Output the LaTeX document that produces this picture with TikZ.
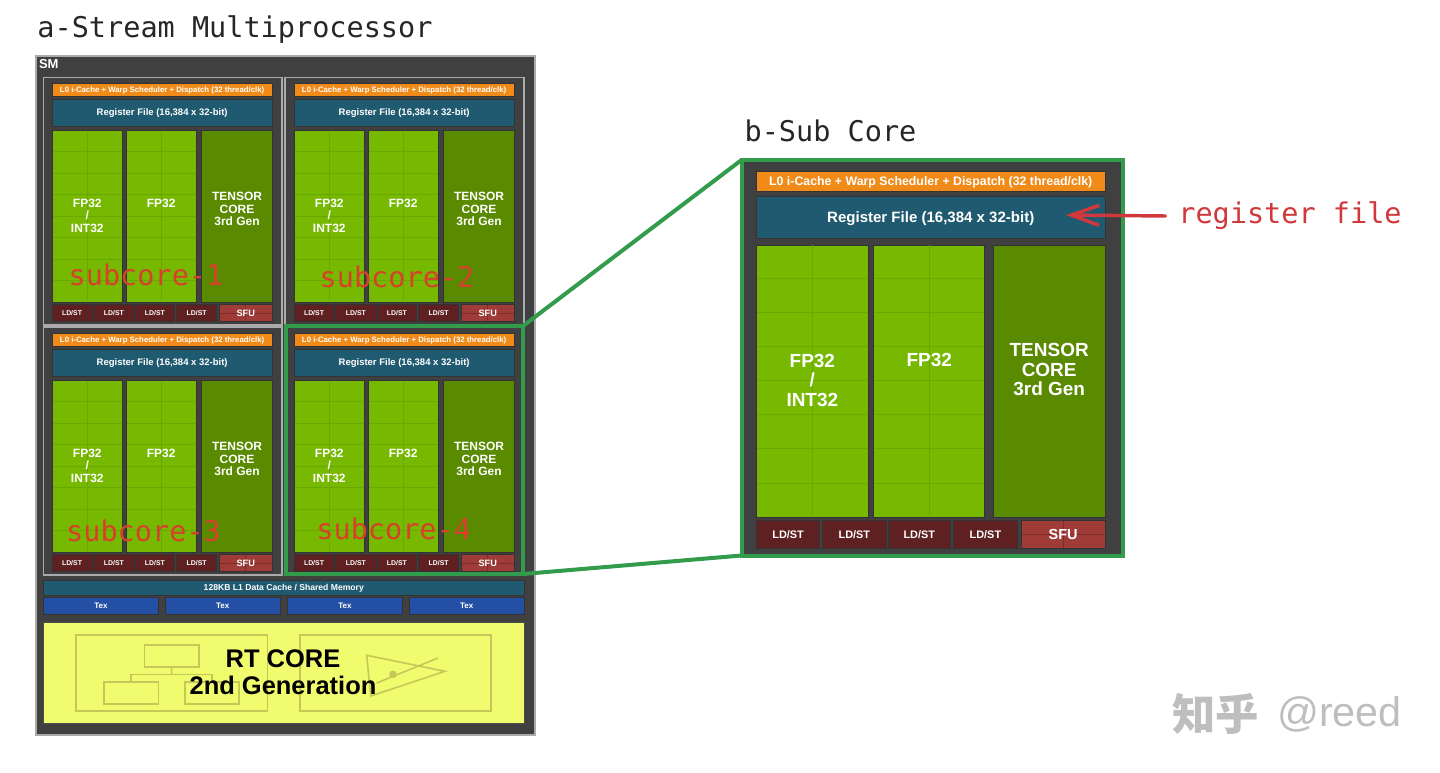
\documentclass[tikz,border=0pt]{standalone}
\usepackage{fontspec}
\setmainfont{Liberation Sans}
\newfontfamily\titlefont{DejaVu Sans Mono}
\newfontfamily\cjkfont{Noto Sans CJK SC}
\usetikzlibrary{calc,arrows.meta}

\definecolor{smdark}{HTML}{404040}
\definecolor{frameline}{HTML}{ABABAB}
\definecolor{orangebar}{HTML}{F08A18}
\definecolor{regblue}{HTML}{1F5A70}
\definecolor{fpgreen}{HTML}{76B900}
\definecolor{fpgrid}{HTML}{68A800}
\definecolor{tensorgreen}{HTML}{5A8A00}
\definecolor{ldstred}{HTML}{5E2020}
\definecolor{sfured}{HTML}{A03C38}
\definecolor{sfugrid}{HTML}{7E2C2A}
\definecolor{texblue}{HTML}{2350A5}
\definecolor{rtyellow}{HTML}{F0FC6E}
\definecolor{rtline}{HTML}{C4C858}
\definecolor{zoomgreen}{HTML}{339C4C}
\definecolor{notered}{HTML}{D0383C}
\definecolor{subred}{HTML}{D8402C}
\definecolor{markgray}{HTML}{BEBEBE}

% Current sub-core origin and scale
\def\sOx{0}\def\sOy{0}\def\sS{1}

% Font size given in pixels of the drawing, scaled with the current sub-core
\newcommand{\pxfont}[2]{%
  \pgfmathsetmacro\tmpfs{#1*\sS*0.75}%
  \pgfmathsetmacro\tmpbs{#2*\sS*0.75}%
  \fontsize{\tmpfs pt}{\tmpbs pt}\selectfont\bfseries}

% One line of box text, centred on its capital height
\newcommand{\chiptext}[2]{\pxfont{#1}{#1}\raisebox{0pt}[.72em][0pt]{#2}}

% \bx{name}{style}{x0}{y0}{x1}{y1}{text}: box in the current sub-core frame
\newcommand{\bx}[7]{%
  \pgfmathsetmacro\bw{(#5-#3)*\sS*0.75}%
  \pgfmathsetmacro\bh{(#6-#4)*\sS*0.75}%
  \pgfmathsetmacro\bcx{\sOx+\sS*(#3+#5)/2}%
  \pgfmathsetmacro\bcy{\sOy+\sS*(#4+#6)/2}%
  \node[#2,minimum width=\bw pt,minimum height=\bh pt] (#1) at (\bcx,\bcy) {#7};}

% \tx{name}{x}{y}{text}: centred block label in the current sub-core frame
\newcommand{\tx}[4]{%
  \pgfmathsetmacro\bcx{\sOx+\sS*#2}%
  \pgfmathsetmacro\bcy{\sOy+\sS*#3}%
  \node[chiplabel,font={\pxfont{12}{12.35}}] (#1) at (\bcx,\bcy) {#4};}

% \subcore{prefix}{origin x}{origin y}{scale}
\newcommand{\subcore}[4]{%
  \def\sOx{#2}\def\sOy{#3}\def\sS{#4}%
  \bx{#1orange}{chipbox,fill=orangebar}{0}{0}{220.3}{12.7}{\chiptext{7.8}{L0 i-Cache + Warp Scheduler + Dispatch (32 thread/clk)}}
  \bx{#1reg}{chipbox,fill=regblue}{0}{15.7}{220.3}{42.7}{\chiptext{9.5}{Register File (16,384 x 32-bit)}}
  \bx{#1fpa}{chipbox,fill=fpgreen}{0}{46.7}{70.7}{218.7}{}
  \bx{#1fpb}{chipbox,fill=fpgreen}{74}{46.7}{144.3}{218.7}{}
  \bx{#1ten}{chipbox,fill=tensorgreen}{149.7}{46.7}{220.3}{218.7}{}
  \foreach \p in {#1fpa,#1fpb}{
    \foreach \k in {1,...,7}
      \draw[fpline] ($(\p.north west)!\k/8!(\p.south west)$) -- ($(\p.north east)!\k/8!(\p.south east)$);
    \draw[fpline] (\p.north) -- (\p.south);
  }
  \tx{#1fpatext}{35.3}{132.4}{FP32\\/\\INT32}
  \tx{#1fpbtext}{109.2}{119.7}{FP32}
  \tx{#1tentext}{185}{125.7}{TENSOR\\CORE\\3rd Gen}
  \bx{#1lda}{chipbox,fill=ldstred}{0}{221}{40}{238.4}{\chiptext{6.9}{LD/ST}}
  \bx{#1ldb}{chipbox,fill=ldstred}{41.7}{221}{82}{238.4}{\chiptext{6.9}{LD/ST}}
  \bx{#1ldc}{chipbox,fill=ldstred}{83.3}{221}{122.5}{238.4}{\chiptext{6.9}{LD/ST}}
  \bx{#1ldd}{chipbox,fill=ldstred}{124.7}{221}{164.7}{238.4}{\chiptext{6.9}{LD/ST}}
  \bx{#1sfu}{chipbox,fill=sfured}{167.3}{221}{220.3}{238.4}{}
  \draw[sfuline] (#1sfu.west) -- (#1sfu.east);
  \draw[sfuline] (#1sfu.north) -- (#1sfu.south);
  \pgfmathsetmacro\bcx{\sOx+\sS*193.8}%
  \pgfmathsetmacro\bcy{\sOy+\sS*229.7}%
  \node[chiplabel] (#1sfutext) at (\bcx,\bcy) {\chiptext{9.2}{SFU}};
}

\tikzset{
  chipbox/.style={draw=black!80,line width=0.5pt,inner sep=0pt,outer sep=0pt,text=white,align=center},
  chiplabel/.style={inner sep=0pt,outer sep=0pt,text=white,align=center},
  fpline/.style={draw=fpgrid,line width=0.7pt,shorten >=0.4pt,shorten <=0.4pt},
  sfuline/.style={draw=sfugrid,line width=0.7pt,shorten >=0.4pt,shorten <=0.4pt},
  clusterframe/.style={draw=frameline,line width=0.9pt,inner sep=0pt,outer sep=0pt},
  zoomframe/.style={draw=zoomgreen,inner sep=0pt,outer sep=0pt},
  zoomline/.style={draw=zoomgreen,line width=3pt,line cap=round},
  headtext/.style={inner sep=0pt,outer sep=0pt,text=black!85,font=\titlefont\fontsize{21.4pt}{24pt}\selectfont},
  subtext/.style={inner sep=0pt,outer sep=0pt,text=subred,font=\titlefont\fontsize{21.4pt}{24pt}\selectfont},
  rtline/.style={draw=rtline,line width=1.2pt},
  rtbox/.style={rtline,inner sep=0pt,outer sep=0pt},
}

\begin{document}
\begin{tikzpicture}[x=0.75pt,y=-0.75pt]
\useasboundingbox (0,0) rectangle (1440,772);

% Titles
\node[headtext,anchor=center] (titlea) at (235,30) {a-Stream Multiprocessor};
\node[headtext,anchor=center] (titleb) at (830.5,131) {b-Sub Core};

% Streaming multiprocessor body
\def\sS{1}
\bx{sm}{fill=smdark,draw=frameline,line width=1pt,inner sep=0pt}{36}{56}{535}{735}{}
\node[chiplabel,anchor=west] (smtext) at (39,64) {\chiptext{13}{SM}};

% Sub-core cluster frames
\bx{framea}{clusterframe}{43.3}{77.7}{282}{325}{}
\bx{frameb}{clusterframe}{285}{77.7}{524}{325}{}
\bx{framec}{clusterframe}{43.3}{327}{282}{575}{}

\subcore{sa}{52}{83.3}{1}
\subcore{sb}{294}{83.3}{1}
\subcore{sc}{52}{333.3}{1}
\subcore{sd}{294}{333.3}{1}
\def\sOx{0}\def\sOy{0}\def\sS{1}

\bx{framed}{zoomframe,line width=3pt}{286}{326}{523}{574}{}

% Shared memory and texture units
\bx{lone}{chipbox,fill=regblue}{43.3}{580.7}{524.3}{595}{\chiptext{8.6}{128KB L1 Data Cache / Shared Memory}}
\bx{texa}{chipbox,fill=texblue}{43.3}{597.7}{158.7}{614.3}{\chiptext{8}{Tex}}
\bx{texb}{chipbox,fill=texblue}{165}{597.7}{280.3}{614.3}{\chiptext{8}{Tex}}
\bx{texc}{chipbox,fill=texblue}{287}{597.7}{402.7}{614.3}{\chiptext{8}{Tex}}
\bx{texd}{chipbox,fill=texblue}{409}{597.7}{524.3}{614.3}{\chiptext{8}{Tex}}

% Ray tracing core with its tree and triangle emblems
\bx{rt}{fill=rtyellow,draw=black!70,line width=0.5pt,inner sep=0pt}{43}{622.3}{524.3}{723.3}{}
\bx{rtleft}{rtbox}{76}{635}{267.3}{710.7}{}
\bx{rtright}{rtbox}{300}{635}{491}{710.7}{}
\bx{treetop}{rtbox}{144.3}{645}{199}{667}{}
\bx{treeleft}{rtbox}{104}{681.7}{158.3}{704}{}
\bx{treeright}{rtbox}{185}{681.7}{239}{704}{}
\coordinate (treejoin) at (171.7,674.3);
\draw[rtline] (treetop.south) -- (treejoin);
\draw[rtline] (treeleft.north) |- (treejoin);
\draw[rtline] (treeright.north) |- (treejoin);
\coordinate (tria) at (366.7,655.3);
\coordinate (trib) at (445,671.3);
\coordinate (tric) at (370.7,696);
\coordinate (raya) at (376.7,683);
\coordinate (rayb) at (438,658);
\coordinate (hit) at (393,674.3);
\draw[rtline] (tria) -- (trib) -- (tric) -- cycle;
\draw[rtline] (raya) -- (rayb);
\fill[rtline,fill=rtline] (hit) circle (3);
\node[inner sep=0pt,text=black,align=center,font={\fontsize{19.1pt}{20.3pt}\selectfont\bfseries}] (rttext) at (283,672) {RT CORE\\2nd Generation};

% Enlarged sub-core
\bx{zoomed}{zoomframe,fill=smdark,line width=3pt}{741.5}{160}{1123}{555.5}{}
\subcore{big}{756.5}{171}{1.582}
\def\sOx{0}\def\sOy{0}\def\sS{1}

% Lines tying the highlighted sub-core to its enlargement
\draw[zoomline] (framed.north east) -- (zoomed.north west);
\draw[zoomline] (framed.south east) -- (zoomed.south west);

% Register file callout
\node[subtext,text=notered,anchor=center] (regnote) at (1290,216) {register file};
\coordinate (regtip) at (1066,215);
\draw[draw=notered,line width=2.6pt,line cap=round,-{Straight Barb[length=21pt,width=15pt,line width=2.6pt]}] ($(regnote.west)+(-13,0)$) -- (regtip);

% Sub-core captions
\node[subtext] (capa) at (146,275) {subcore-1};
\node[subtext] (capb) at (397,277) {subcore-2};
\node[subtext] (capc) at (143.5,531) {subcore-3};
\node[subtext] (capd) at (393.7,529) {subcore-4};

% Site mark
\node[inner sep=0pt,text=markgray,anchor=west,font={\cjkfont\fontsize{32.5pt}{34pt}\selectfont\bfseries}] (markcn) at (1172,714) {知乎};
\node[inner sep=0pt,text=markgray,anchor=east,font={\fontsize{31pt}{33pt}\selectfont}] (markat) at (1402,714) {@reed};
\end{tikzpicture}
\end{document}
